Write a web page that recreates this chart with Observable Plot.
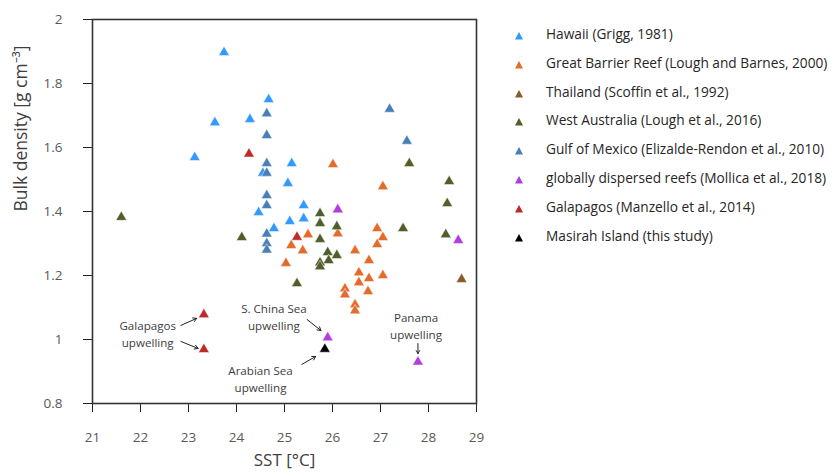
<!DOCTYPE html>
<html>
<head>
<meta charset="utf-8">
<script src="https://cdn.jsdelivr.net/npm/d3@7"></script>
<script src="https://cdn.jsdelivr.net/npm/@observablehq/plot@0.6"></script>
<style>
  html, body { margin: 0; padding: 0; background: #fff; overflow: hidden; }
  #wrap { position: relative; width: 837px; height: 476px; font-family: "Open Sans", sans-serif; overflow: hidden; }
  #legend { position: absolute; left: 512px; top: 25px; font-size: 13.7px; color: #262626; }
  .row { position: relative; height: 28.8px; line-height: 20px; white-space: nowrap; }
  .row svg { position: absolute; left: 0; top: 5px; }
  .row span { position: absolute; left: 34px; top: -1px; }
</style>
</head>
<body>
<div id="wrap">
  <div id="chart"></div>
  <div id="legend"></div>
</div>
<script>
const seriesNames = [
  "Hawaii (Grigg, 1981)",
  "Great Barrier Reef (Lough and Barnes, 2000)",
  "Thailand (Scoffin et al., 1992)",
  "West Australia (Lough et al., 2016)",
  "Gulf of Mexico (Elizalde-Rendon et al., 2010)",
  "globally dispersed reefs (Mollica et al., 2018)",
  "Galapagos (Manzello et al., 2014)",
  "Masirah Island (this study)"
];
const seriesColors = ["#3399ff", "#e36c2c", "#8b5a2b", "#4f5f2a", "#4a7eb8", "#b33ce0", "#be2a2a", "#000000"];

const hawaiiX = [23.74, 24.67, 23.55, 24.28, 23.13, 25.15, 25.07, 24.46, 25.40, 25.40, 25.11, 24.78, 24.55];
const hawaiiY = [1.897, 1.75, 1.678, 1.688, 1.569, 1.55, 1.488, 1.397, 1.419, 1.378, 1.369, 1.347, 1.52];

const gbrX = [26.01, 27.05, 25.49, 25.14, 25.38, 25.03, 26.11, 26.11, 26.93, 27.05, 26.93, 26.47, 26.76, 26.55, 26.55, 26.76, 27.05, 26.74, 26.26, 26.26, 26.47, 26.47];
const gbrY = [1.547, 1.478, 1.328, 1.294, 1.278, 1.238, 1.331, 1.406, 1.347, 1.319, 1.297, 1.278, 1.247, 1.209, 1.178, 1.191, 1.20, 1.15, 1.159, 1.14, 1.109, 1.09];

const thailandX = [28.69];
const thailandY = [1.188];

const waX = [21.60, 24.11, 25.74, 25.74, 25.74, 26.09, 25.90, 26.09, 25.92, 25.74, 25.74, 25.26, 27.60, 28.43, 28.39, 27.47, 28.36];
const waY = [1.382, 1.319, 1.394, 1.363, 1.313, 1.353, 1.272, 1.263, 1.247, 1.24, 1.228, 1.175, 1.55, 1.494, 1.425, 1.347, 1.328];

const gomX = [24.63, 24.63, 24.63, 24.63, 24.63, 24.63, 24.63, 24.63, 24.63, 27.19, 27.55];
const gomY = [1.706, 1.638, 1.55, 1.52, 1.45, 1.419, 1.33, 1.30, 1.28, 1.72, 1.62];

const globalX = [26.11, 28.62, 25.90, 27.78];
const globalY = [1.406, 1.31, 1.006, 0.93];

const galapagosX = [24.26, 25.26, 23.32, 23.32];
const galapagosY = [1.58, 1.32, 1.078, 0.969];

const masirahX = [25.84];
const masirahY = [0.97];

const xTicks = [21, 22, 23, 24, 25, 26, 27, 28, 29];
const yTicks = [0.8, 1, 1.2, 1.4, 1.6, 1.8, 2];
const yTickLabels = ["0.8", "1", "1.2", "1.4", "1.6", "1.8", "2"];

const annoLabels = ["Galapagos\nupwelling", "S. China Sea\nupwelling", "Arabian Sea\nupwelling", "Panama\nupwelling"];
const annoX = [22.15, 24.78, 24.50, 27.74];
const annoY = [1.019, 1.072, 0.880, 1.045];

const arrowX1 = [22.84, 22.84, 25.47, 25.36, 27.78];
const arrowY1 = [1.044, 0.994, 1.0625, 0.922, 0.9875];
const arrowX2 = [23.17, 23.20, 25.76, 25.65, 27.78];
const arrowY2 = [1.066, 0.972, 1.028, 0.947, 0.956];

const xLabel = "SST [°C]";
const yLabel = "Bulk density [g cm⁻³]";

const seriesX = [hawaiiX, gbrX, thailandX, waX, gomX, globalX, galapagosX, masirahX];
const seriesY = [hawaiiY, gbrY, thailandY, waY, gomY, globalY, galapagosY, masirahY];
const points = [];
seriesNames.forEach((name, i) => {
  seriesX[i].forEach((x, j) => points.push({series: name, x, y: seriesY[i][j]}));
});
const annos = annoLabels.map((t, i) => ({t, x: annoX[i], y: annoY[i]}));
const arrows = arrowX1.map((x1, i) => ({x1, y1: arrowY1[i], x2: arrowX2[i], y2: arrowY2[i]}));

const chart = Plot.plot({
  width: 837,
  height: 476,
  marginLeft: 92,
  marginRight: 361,
  marginTop: 19,
  marginBottom: 73,
  style: {fontFamily: "Open Sans, sans-serif", background: "white"},
  x: {domain: [21, 29]},
  y: {domain: [0.8, 2]},
  color: {domain: seriesNames, range: seriesColors},
  marks: [
    Plot.axisX({ticks: xTicks, tickSize: 9, tickPadding: 20, fontSize: 13.5, color: "#595959", stroke: "#222", label: null, tickFormat: d => String(d)}),
    Plot.axisY({ticks: yTicks, tickSize: 9, tickPadding: 21, fontSize: 13.5, color: "#595959", stroke: "#222", label: null,
      tickFormat: d => yTickLabels[yTicks.indexOf(d)]}),
    Plot.frame({stroke: "#333", strokeWidth: 1.6}),
    Plot.dot(points, {x: "x", y: "y", fill: "series", symbol: "triangle", r: 4, stroke: "white", strokeWidth: 0.6, strokeOpacity: 0.8}),
    Plot.arrow(arrows, {x1: "x1", y1: "y1", x2: "x2", y2: "y2", stroke: "#222", strokeWidth: 1, headLength: 6}),
    Plot.text(annos, {x: "x", y: "y", text: "t", fontSize: 11.6, fill: "#404040", lineHeight: 1.45}),
    Plot.text([xLabel], {frameAnchor: "bottom", dy: 62, fontSize: 17, fill: "#404040"}),
    Plot.text([yLabel], {frameAnchor: "left", dx: -71, rotate: -90, fontSize: 17.5, fill: "#404040"})
  ]
});
document.getElementById("chart").appendChild(chart);

const legend = document.getElementById("legend");
seriesNames.forEach((name, i) => {
  const row = document.createElement("div");
  row.className = "row";
  row.innerHTML = `<svg width="14" height="12" viewBox="0 0 14 12"><polygon points="7,2 11,9.5 3,9.5" fill="${seriesColors[i]}"/></svg><span></span>`;
  row.querySelector("span").textContent = name;
  legend.appendChild(row);
});
</script>
</body>
</html>
